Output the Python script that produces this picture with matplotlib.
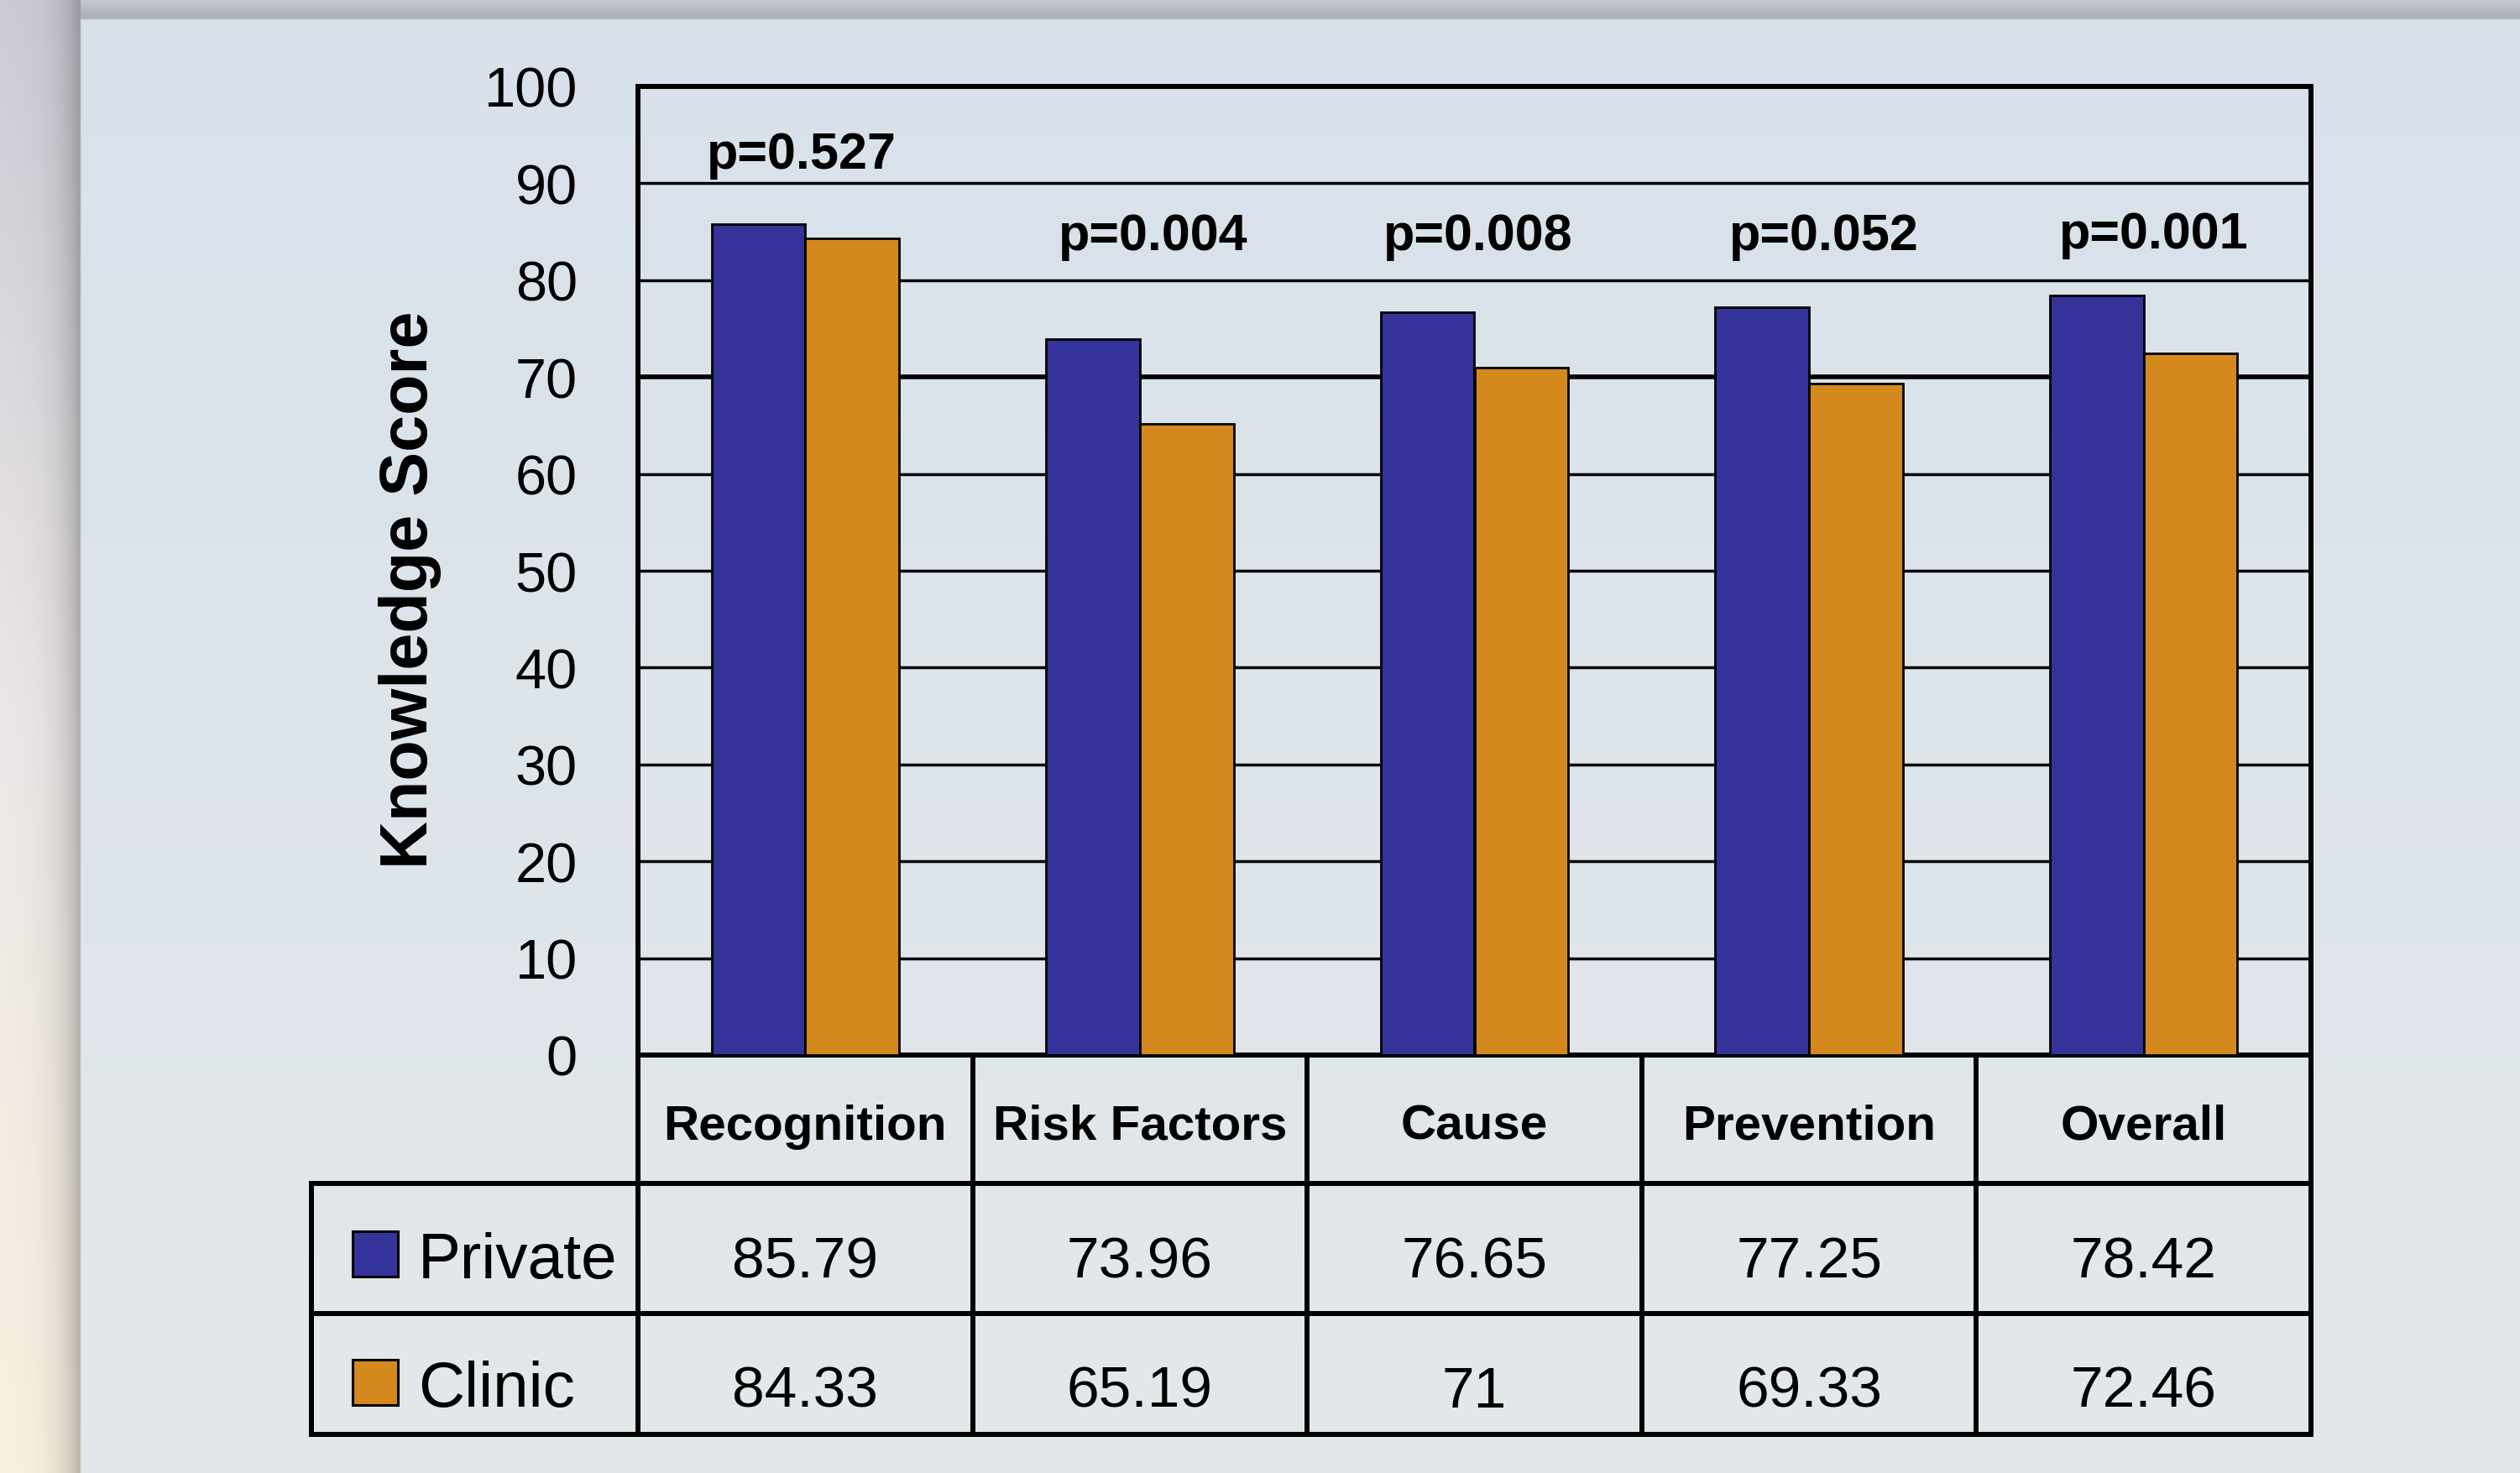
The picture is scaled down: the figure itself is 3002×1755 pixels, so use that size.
import numpy as np
import matplotlib.pyplot as plt
from matplotlib.patches import Rectangle
from matplotlib.transforms import blended_transform_factory

plt.rcParams.update({"font.family": ["Liberation Sans", "DejaVu Sans"]})

categories = ['Recognition', 'Risk Factors', 'Cause', 'Prevention', 'Overall']
groups = ['Private', 'Clinic']
private = [85.79, 73.96, 76.65, 77.25, 78.42]
clinic = [84.33, 65.19, 71, 69.33, 72.46]
private_txt = ['85.79', '73.96', '76.65', '77.25', '78.42']
clinic_txt = ['84.33', '65.19', '71', '69.33', '72.46']
pvals = ['p=0.527', 'p=0.004', 'p=0.008', 'p=0.052', 'p=0.001']
p_y = [91.6, 83.2, 83.2, 83.2, 83.4]
p_dx = [-0.01, 0.04, 0.01, 0.045, 0.03]
yticks = [0, 10, 20, 30, 40, 50, 60, 70, 80, 90, 100]

colors = ['#343399', '#d4891e']

W, H = 3002, 1756
fig = plt.figure(figsize=(W / 100, H / 100), dpi=100)

# backdrop: slide panel with a gray top rim and a warm left strip
bg = fig.add_axes([0, 0, 1, 1], zorder=-1)
h, w = H // 2, W // 2
yy, xx = np.mgrid[0:h, 0:w] * 2.0
t = (yy / H)[..., None]
img = np.array([0.847, 0.882, 0.918]) * (1 - t) + np.array([0.890, 0.910, 0.918]) * t
left = xx < 96
top = (yy < 23) & ~left
ty = (yy / H)[..., None]
strip = np.where(ty < 0.5,
                 np.array([0.80, 0.80, 0.84]) * (1 - 2 * ty) + np.array([0.93, 0.91, 0.91]) * 2 * ty,
                 np.array([0.93, 0.91, 0.91]) * (2 - 2 * ty) + np.array([0.98, 0.95, 0.88]) * (2 * ty - 1))
shade = 1 - 0.28 * np.exp(-(96 - xx) / 22.0)
img[left] = (strip * shade[..., None])[left]
rim = np.array([0.78, 0.78, 0.82]) * (1 - yy / 23)[..., None] + np.array([0.67, 0.68, 0.71]) * (yy / 23)[..., None]
img[top] = rim[top]
bg.imshow(img, extent=(0, W, H, 0), interpolation='bilinear', aspect='auto')
bg.set_xlim(0, W)
bg.set_ylim(H, 0)
bg.axis('off')

# bar chart
ax = fig.add_axes([760 / W, 1 - 1258 / H, (2753 - 760) / W, (1258 - 104) / H])
ax.patch.set_alpha(0)
x = np.arange(len(categories))
bw = 0.28
for yv in yticks[1:-1]:
    ax.axhline(yv, color='black', lw=4.0 if yv == 70 else 2.5, zorder=1)
ax.bar(x - bw / 2, private, bw, color=colors[0], edgecolor='black', linewidth=2, zorder=3)
ax.bar(x + bw / 2, clinic, bw, color=colors[1], edgecolor='black', linewidth=2, zorder=3)
for i in range(len(categories)):
    ax.text(x[i] + p_dx[i], p_y[i], pvals[i], ha='center', va='baseline', fontsize=44, fontweight='bold', zorder=4)
ax.set_xlim(-0.5, len(categories) - 0.5)
ax.set_ylim(0, 100)
ax.set_xticks([])
ax.set_yticks(yticks)
ax.set_yticklabels([str(v) for v in yticks])
ax.tick_params(axis='y', length=0, pad=52, labelsize=48)
for s in ax.spines.values():
    s.set_linewidth(4.3)

bg.text(488, 703, 'Knowledge Score', rotation=90, ha='center', va='center', fontsize=57, fontweight='bold')

# data table under the bars, columns share the bar axis
tr = blended_transform_factory(ax.transData, bg.transData)
row_edges = [1258, 1411, 1566, 1710]
x_lab = -0.5 - (760 - 371) / 398.6
lw = 4.3
for b in np.arange(-0.5, len(categories), 1.0):
    fig.add_artist(plt.Line2D([b, b], [row_edges[0], row_edges[-1]], transform=tr, color='black', lw=lw, clip_on=False))
for ye in row_edges[1:]:
    fig.add_artist(plt.Line2D([x_lab, len(categories) - 0.5], [ye, ye], transform=tr, color='black', lw=lw, clip_on=False))
fig.add_artist(plt.Line2D([x_lab, x_lab], [row_edges[1], row_edges[-1]], transform=tr, color='black', lw=lw, clip_on=False))

for i, c in enumerate(categories):
    fig.text(x[i], 1358, c, transform=tr, ha='center', va='baseline', fontsize=42, fontweight='bold')
    fig.text(x[i], 1523, private_txt[i], transform=tr, ha='center', va='baseline', fontsize=50)
    fig.text(x[i], 1677, clinic_txt[i], transform=tr, ha='center', va='baseline', fontsize=50)

for j, (g, base) in enumerate(zip(groups, [1523, 1676])):
    bg.add_patch(Rectangle((420, base - 55), 54, 54, facecolor=colors[j], edgecolor='black', lw=2.2))
    bg.text(498, base, g, ha='left', va='baseline', fontsize=55)

fig.savefig('out.png', dpi=100)
